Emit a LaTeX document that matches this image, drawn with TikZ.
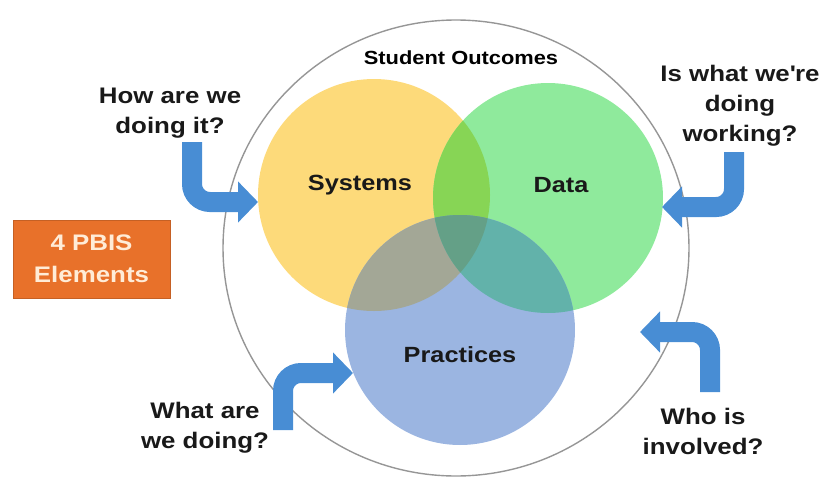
\documentclass[tikz,border=0pt]{standalone}
\usepackage{fontspec}
\setmainfont{Liberation Sans}[FakeStretch=1.15]
\usetikzlibrary{arrows.meta}

\definecolor{sysyellow}{RGB}{253,218,122}
\definecolor{datagreen}{RGB}{143,234,156}
\definecolor{pracblue}{RGB}{155,181,225}
\definecolor{sysdata}{RGB}{135,213,85}
\definecolor{syspract}{RGB}{163,167,150}
\definecolor{datapract}{RGB}{98,178,170}
\definecolor{allthree}{RGB}{100,160,135}
\definecolor{arrowblue}{RGB}{72,141,212}
\definecolor{pbisorange}{RGB}{232,113,42}
\definecolor{ringgray}{RGB}{150,150,150}

\begin{document}
\begin{tikzpicture}
  [x=1pt,y=-1pt,
   qtext/.style={align=center,text=black!90,font=\bfseries\fontsize{22.5}{30}\selectfont},
   ctext/.style={text=black!90,font=\bfseries\fontsize{22}{26}\selectfont},
   qarrow/.style={draw=arrowblue,line width=20pt,rounded corners=18pt,
     -{Triangle[length=20pt,width=40pt]}}]
  \useasboundingbox (0,0) rectangle (823,477);

  % outer ring
  \draw[ringgray,line width=1.4pt] (456,248) ellipse [x radius=233,y radius=228];

  % the three circles
  \fill[sysyellow] (374,195) circle [radius=116];
  \fill[datagreen] (548,198) circle [radius=115];
  \fill[pracblue] (460,330) circle [radius=115];
  \begin{scope}
    \clip (374,195) circle [radius=116];
    \fill[sysdata] (548,198) circle [radius=115];
    \fill[syspract] (460,330) circle [radius=115];
  \end{scope}
  \begin{scope}
    \clip (548,198) circle [radius=115];
    \fill[datapract] (460,330) circle [radius=115];
    \clip (374,195) circle [radius=116];
    \fill[allthree] (460,330) circle [radius=115];
  \end{scope}

  \node (outcomes) at (461,58) {\bfseries\fontsize{19}{22}\selectfont Student Outcomes};
  \node[ctext] (systems) at (360,185) {Systems};
  \node[ctext] (data) at (561,185) {Data};
  \node[ctext] (practices) at (460,355) {Practices};

  \node[qtext] (how) at (170,113) {How are we\\doing it?};
  \node[qtext] (working) at (740,106) {Is what we\textquotesingle re\\doing\\working?};
  \node[qtext] (who) at (703,431) {Who is\\involved?};
  \node[qtext] (what) at (205,428) {What are\\we doing?};

  \node[draw=pbisorange!85!black,fill=pbisorange,minimum width=157pt,minimum height=78pt,
    align=center,text={rgb,255:red,255;green,236;blue,215},
    font=\bfseries\fontsize{22.5}{32}\selectfont] (elements) at (91.5,259) {4 PBIS\\Elements};

  \coordinate (howS) at (192,142);
  \coordinate (howT) at (258,202);
  \coordinate (workingS) at (734,152);
  \coordinate (workingT) at (662,207);
  \coordinate (whoS) at (710,392);
  \coordinate (whoT) at (640,332);
  \coordinate (whatS) at (283,430);
  \coordinate (whatT) at (353,373);

  \draw[qarrow] (howS) |- (howT);
  \draw[qarrow] (workingS) |- (workingT);
  \draw[qarrow] (whoS) |- (whoT);
  \draw[qarrow] (whatS) |- (whatT);

\end{tikzpicture}
\end{document}
